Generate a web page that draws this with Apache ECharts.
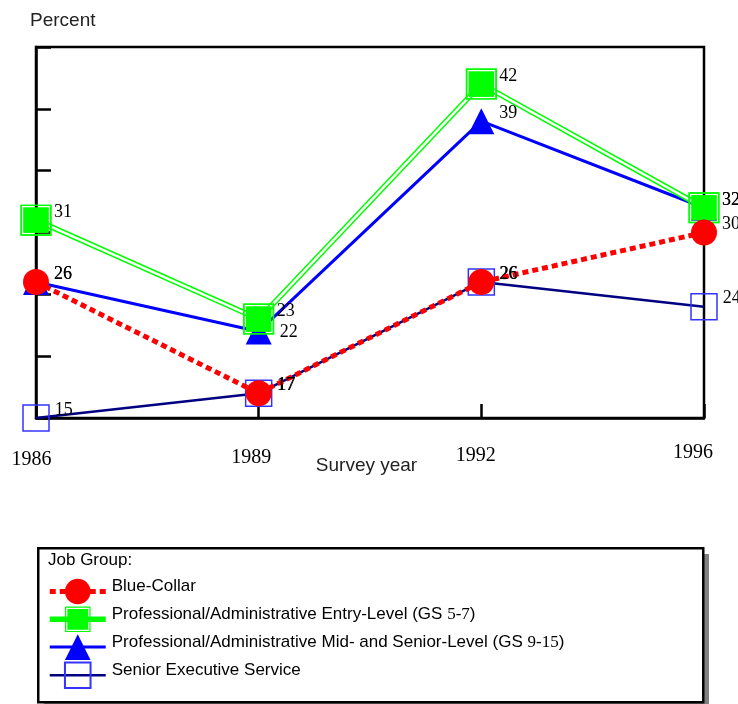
<!DOCTYPE html>
<html>
<head>
<meta charset="utf-8">
<script src="https://cdn.jsdelivr.net/npm/echarts@6/dist/echarts.min.js"></script>
<style>
  html, body { margin: 0; padding: 0; background: #fff; }
  #chart { width: 738px; height: 704px; }
</style>
</head>
<body>
<div id="chart"></div>
<script>
// Survey years (category axis)
const years = ['1986', '1989', '1992', '1996'];

// Percent values per job group
const blueCollar = [26, 17, 26, 30];
const entryLevel = [31, 23, 42, 32];
const midSenior = [26, 22, 39, 32];
const seniorExec = [15, 17, 26, 24];

// Series names as shown in the legend
const NAME_BC = 'Blue-Collar';
const NAME_ENTRY = 'Professional/Administrative Entry-Level (GS 5-7)';
const NAME_MID = 'Professional/Administrative Mid- and Senior-Level (GS 9-15)';
const NAME_SES = 'Senior Executive Service';

// Y axis range
const yMin = 15, yMax = 45, yStep = 5;

// ---- styling ----
const serif = "'Liberation Serif', 'Times New Roman', serif";
const sans = "'Liberation Sans', Arial, sans-serif";

// Framed square: outer ring, white gap, filled centre
const doubleSquare = 'path://M0 0 L32 0 L32 32 L0 32 Z M1.5 1.5 L1.5 30.5 L30.5 30.5 L30.5 1.5 Z M3 3 L29 3 L29 29 L3 29 Z';

// Per-tick label nudges [padTop, padRight]
const yearLabelPad = [[11.5, 9], [9.5, 15], [8, 11], [5, 22]];

function valueLabel(distance) {
  return {
    show: true, position: 'right', distance: distance, offset: [0, -8],
    color: '#000', fontFamily: serif, fontSize: 18
  };
}

const chart = echarts.init(document.getElementById('chart'), null, { renderer: 'canvas' });

const midData = midSenior.map((v, i) => i === 1
  ? { value: v, label: { offset: [3, 1] } }
  : v);

const yearRich = {};
yearLabelPad.forEach((p, i) => {
  yearRich['k' + i] = { fontFamily: serif, fontSize: 20, color: '#000', padding: [p[0], p[1], 0, 0] };
});

chart.setOption({
  animation: false,
  backgroundColor: '#fff',
  grid: {
    left: 36, right: 34, top: 47, bottom: 286,
    show: true, borderColor: '#000', borderWidth: 2.5, backgroundColor: 'transparent'
  },
  xAxis: {
    type: 'category', data: years, boundaryGap: false,
    axisLine: { lineStyle: { color: '#000', width: 2.5 } },
    axisTick: { inside: true, length: 14, lineStyle: { color: '#000', width: 2.5 } },
    axisLabel: {
      interval: 0, margin: 20, fontFamily: serif, fontSize: 20, color: '#000',
      formatter: (v, i) => '{k' + i + '|' + v + '}',
      rich: yearRich
    },
    name: 'Survey year', nameLocation: 'middle', nameGap: 38, nameMoveOverlap: false,
    nameTextStyle: { fontFamily: sans, fontSize: 19, color: '#222', padding: [0, 7, 0, 0] },
    splitLine: { show: false }
  },
  yAxis: {
    type: 'value', min: yMin, max: yMax, interval: yStep,
    axisLine: { show: true, lineStyle: { color: '#000', width: 2.5 } },
    axisTick: { show: true, inside: true, length: 15, lineStyle: { color: '#000', width: 2.5 } },
    axisLabel: { show: false },
    splitLine: { show: false }
  },
  legend: {
    data: [NAME_BC, NAME_ENTRY, NAME_MID, NAME_SES],
    orient: 'vertical', left: 47, top: 578, padding: 0,
    itemWidth: 56, itemHeight: 32, itemGap: 1.5,
    selectedMode: false,
    lineStyle: { width: 'inherit' },
    textStyle: {
      fontFamily: sans, fontSize: 17, color: '#000', padding: [0, 0, 10, 1],
      rich: { n: { fontFamily: serif, fontSize: 17, color: '#000' } }
    },
    formatter: name => name.replace(/(\d+-\d+)/, '{n|$1}')
  },
  graphic: [
    {
      // drop shadow of the legend panel
      type: 'rect', left: 44, top: 554, z: -11, silent: true,
      shape: { width: 665, height: 154 },
      style: { fill: '#808080' }
    },
    {
      type: 'rect', left: 37, top: 547, z: -10, silent: true,
      shape: { width: 665, height: 154 },
      style: { fill: '#fff', stroke: '#000', lineWidth: 2.5 }
    },
    {
      type: 'text', left: 48, top: 552,
      style: { text: 'Job Group:', fontFamily: sans, fontSize: 17, fill: '#000' }
    },
    {
      type: 'text', left: 30, top: 11,
      style: { text: 'Percent', fontFamily: sans, fontSize: 19, fill: '#222' }
    }
  ],
  series: [
    {
      name: NAME_SES, type: 'line', data: seniorExec, z: 2,
      symbol: 'rect', symbolSize: 26,
      lineStyle: { color: '#000080', width: 2.5 },
      itemStyle: { color: 'transparent', borderColor: '#3333ff', borderWidth: 1.5 },
      label: valueLabel(5),
      emphasis: { disabled: true }
    },
    {
      name: NAME_MID, type: 'line', data: midData, z: 2,
      symbol: 'triangle', symbolSize: 26,
      lineStyle: { color: '#0000ff', width: 3 },
      itemStyle: { color: '#0000ff' },
      label: valueLabel(5),
      emphasis: { disabled: true }
    },
    {
      name: NAME_ENTRY, type: 'line', data: entryLevel, z: 2,
      symbol: doubleSquare, symbolSize: 31,
      lineStyle: { color: '#00ff00', width: 5.5 },
      itemStyle: { color: '#00ff00' },
      emphasis: { disabled: true }
    },
    {
      // inner white stroke giving the entry-level line its double rule
      name: 'entryInner', type: 'line', data: entryLevel, z: 2,
      symbol: 'none', silent: true,
      lineStyle: { color: '#fff', width: 2.5 },
      emphasis: { disabled: true }
    },
    {
      name: 'entryMarks', type: 'scatter', data: entryLevel, z: 3,
      symbol: doubleSquare, symbolSize: 31, silent: true,
      itemStyle: { color: '#00ff00', opacity: 1 },
      label: valueLabel(2.5),
      emphasis: { disabled: true }
    },
    {
      name: NAME_BC, type: 'line', data: blueCollar, z: 4,
      symbol: 'circle', symbolSize: 26,
      lineStyle: { color: '#ff0000', width: 5, type: [6, 4] },
      itemStyle: { color: '#ff0000' },
      label: valueLabel(5),
      emphasis: { disabled: true }
    }
  ]
});
</script>
</body>
</html>
